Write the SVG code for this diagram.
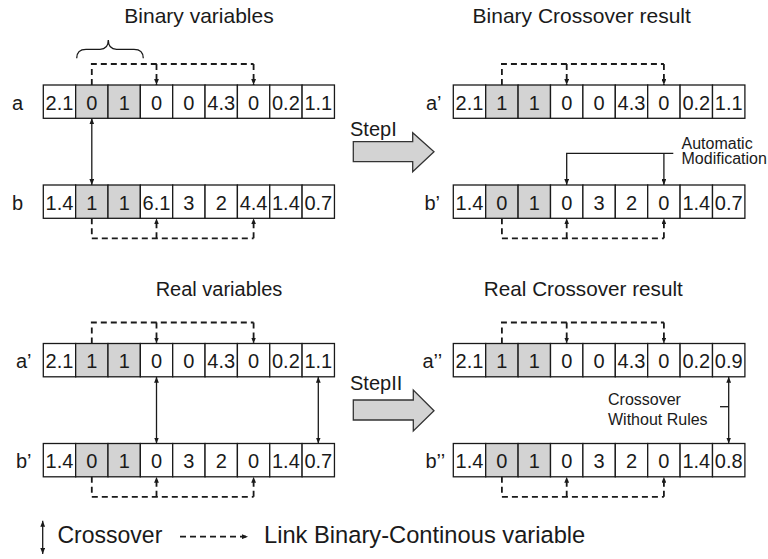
<svg xmlns="http://www.w3.org/2000/svg" width="768" height="559" viewBox="0 0 768 559">
<style>
text{font-family:"Liberation Sans",Arial,sans-serif;fill:#1a1a1a}
.c{fill:#fff;stroke:#1a1a1a;stroke-width:1.3}
.g{fill:#d3d3d3;stroke:#1a1a1a;stroke-width:1.3}
.v{font-size:20px;text-anchor:middle}
.lab{font-size:20px}
.ttl{font-size:21px;text-anchor:middle}
.ann{font-size:16px}
.leg{font-size:23px}
.sol{fill:none;stroke:#1a1a1a;stroke-width:1.3}
.dsh{fill:none;stroke:#1a1a1a;stroke-width:1.8;stroke-dasharray:6 4}
.big{fill:#d3d3d3;stroke:#333;stroke-width:1.3}
</style>
<defs>
<marker id="ah" viewBox="0 0 10 8" refX="10" refY="4" markerWidth="6" markerHeight="4.8" markerUnits="userSpaceOnUse" orient="auto-start-reverse">
<path d="M0,0 L10,4 L0,8 z" fill="#1a1a1a"/>
</marker>
</defs>

<!-- titles -->
<text class="ttl" x="199" y="23.3">Binary variables</text>
<text class="ttl" x="581.7" y="23.3">Binary Crossover result</text>
<text class="ttl" x="219" y="296" style="font-size:20px">Real variables</text>
<text class="ttl" x="583.3" y="296" style="font-size:20.7px">Real Crossover result</text>

<!-- brace -->
<path class="sol" d="M76.7,58.3 Q76.7,49.3 86,49.3 L100,49.3 Q108.3,49.3 108.3,40 Q108.3,49.3 116.6,49.3 L134,49.3 Q143.3,49.3 143.3,58.3"/>

<!-- Top-left a -->
<g id="tl-a">
<text class="lab" x="12" y="109.5">a</text>
<rect class="c" x="43.3" y="85" width="32.35" height="33.3"/>
<rect class="g" x="75.65" y="85" width="32.35" height="33.3"/>
<rect class="g" x="108" y="85" width="32.35" height="33.3"/>
<rect class="c" x="140.35" y="85" width="32.35" height="33.3"/>
<rect class="c" x="172.7" y="85" width="32.35" height="33.3"/>
<rect class="c" x="205.05" y="85" width="32.35" height="33.3"/>
<rect class="c" x="237.4" y="85" width="32.35" height="33.3"/>
<rect class="c" x="269.75" y="85" width="32.35" height="33.3"/>
<rect class="c" x="302.1" y="85" width="32.35" height="33.3"/>
<text class="v" x="59.5" y="109.5">2.1</text><text class="v" x="91.8" y="109.5">0</text><text class="v" x="124.2" y="109.5">1</text>
<text class="v" x="156.5" y="109.5">0</text><text class="v" x="188.9" y="109.5">0</text><text class="v" x="221.2" y="109.5">4.3</text>
<text class="v" x="253.6" y="109.5">0</text><text class="v" x="285.9" y="109.5">0.2</text><text class="v" x="318.3" y="109.5">1.1</text>
</g>

<!-- Top-left b -->
<g id="tl-b">
<text class="lab" x="12" y="209.5">b</text>
<rect class="c" x="43.3" y="185" width="32.35" height="33.3"/>
<rect class="g" x="75.65" y="185" width="32.35" height="33.3"/>
<rect class="g" x="108" y="185" width="32.35" height="33.3"/>
<rect class="c" x="140.35" y="185" width="32.35" height="33.3"/>
<rect class="c" x="172.7" y="185" width="32.35" height="33.3"/>
<rect class="c" x="205.05" y="185" width="32.35" height="33.3"/>
<rect class="c" x="237.4" y="185" width="32.35" height="33.3"/>
<rect class="c" x="269.75" y="185" width="32.35" height="33.3"/>
<rect class="c" x="302.1" y="185" width="32.35" height="33.3"/>
<text class="v" x="59.5" y="209.5">1.4</text><text class="v" x="91.8" y="209.5">1</text><text class="v" x="124.2" y="209.5">1</text>
<text class="v" x="156.5" y="209.5">6.1</text><text class="v" x="188.9" y="209.5">3</text><text class="v" x="221.2" y="209.5">2</text>
<text class="v" x="253.6" y="209.5">4.4</text><text class="v" x="285.9" y="209.5">1.4</text><text class="v" x="318.3" y="209.5">0.7</text>
</g>

<!-- Top-right a' -->
<g id="tr-a">
<text class="lab" x="426" y="109.5">a’</text>
<rect class="c" x="453.3" y="85" width="32.4" height="33.3"/>
<rect class="g" x="485.7" y="85" width="32.4" height="33.3"/>
<rect class="g" x="518.1" y="85" width="32.4" height="33.3"/>
<rect class="c" x="550.5" y="85" width="32.4" height="33.3"/>
<rect class="c" x="582.9" y="85" width="32.4" height="33.3"/>
<rect class="c" x="615.3" y="85" width="32.4" height="33.3"/>
<rect class="c" x="647.7" y="85" width="32.4" height="33.3"/>
<rect class="c" x="680.1" y="85" width="32.4" height="33.3"/>
<rect class="c" x="712.5" y="85" width="32.4" height="33.3"/>
<text class="v" x="469.5" y="109.5">2.1</text><text class="v" x="501.9" y="109.5">1</text><text class="v" x="534.3" y="109.5">1</text>
<text class="v" x="566.7" y="109.5">0</text><text class="v" x="599.1" y="109.5">0</text><text class="v" x="631.5" y="109.5">4.3</text>
<text class="v" x="663.9" y="109.5">0</text><text class="v" x="696.3" y="109.5">0.2</text><text class="v" x="728.7" y="109.5">1.1</text>
</g>

<!-- Top-right b' -->
<g id="tr-b">
<text class="lab" x="424.5" y="209.5">b’</text>
<rect class="c" x="453.3" y="185" width="32.4" height="33.3"/>
<rect class="g" x="485.7" y="185" width="32.4" height="33.3"/>
<rect class="g" x="518.1" y="185" width="32.4" height="33.3"/>
<rect class="c" x="550.5" y="185" width="32.4" height="33.3"/>
<rect class="c" x="582.9" y="185" width="32.4" height="33.3"/>
<rect class="c" x="615.3" y="185" width="32.4" height="33.3"/>
<rect class="c" x="647.7" y="185" width="32.4" height="33.3"/>
<rect class="c" x="680.1" y="185" width="32.4" height="33.3"/>
<rect class="c" x="712.5" y="185" width="32.4" height="33.3"/>
<text class="v" x="469.5" y="209.5">1.4</text><text class="v" x="501.9" y="209.5">0</text><text class="v" x="534.3" y="209.5">1</text>
<text class="v" x="566.7" y="209.5">0</text><text class="v" x="599.1" y="209.5">3</text><text class="v" x="631.5" y="209.5">2</text>
<text class="v" x="663.9" y="209.5">0</text><text class="v" x="696.3" y="209.5">1.4</text><text class="v" x="728.7" y="209.5">0.7</text>
</g>

<!-- Bottom-left a' -->
<g id="bl-a">
<text class="lab" x="16" y="368">a’</text>
<rect class="c" x="43.3" y="343.5" width="32.35" height="33.3"/>
<rect class="g" x="75.65" y="343.5" width="32.35" height="33.3"/>
<rect class="g" x="108" y="343.5" width="32.35" height="33.3"/>
<rect class="c" x="140.35" y="343.5" width="32.35" height="33.3"/>
<rect class="c" x="172.7" y="343.5" width="32.35" height="33.3"/>
<rect class="c" x="205.05" y="343.5" width="32.35" height="33.3"/>
<rect class="c" x="237.4" y="343.5" width="32.35" height="33.3"/>
<rect class="c" x="269.75" y="343.5" width="32.35" height="33.3"/>
<rect class="c" x="302.1" y="343.5" width="32.35" height="33.3"/>
<text class="v" x="59.5" y="368">2.1</text><text class="v" x="91.8" y="368">1</text><text class="v" x="124.2" y="368">1</text>
<text class="v" x="156.5" y="368">0</text><text class="v" x="188.9" y="368">0</text><text class="v" x="221.2" y="368">4.3</text>
<text class="v" x="253.6" y="368">0</text><text class="v" x="285.9" y="368">0.2</text><text class="v" x="318.3" y="368">1.1</text>
</g>

<!-- Bottom-left b' -->
<g id="bl-b">
<text class="lab" x="16" y="468">b’</text>
<rect class="c" x="43.3" y="443.5" width="32.35" height="33.3"/>
<rect class="g" x="75.65" y="443.5" width="32.35" height="33.3"/>
<rect class="g" x="108" y="443.5" width="32.35" height="33.3"/>
<rect class="c" x="140.35" y="443.5" width="32.35" height="33.3"/>
<rect class="c" x="172.7" y="443.5" width="32.35" height="33.3"/>
<rect class="c" x="205.05" y="443.5" width="32.35" height="33.3"/>
<rect class="c" x="237.4" y="443.5" width="32.35" height="33.3"/>
<rect class="c" x="269.75" y="443.5" width="32.35" height="33.3"/>
<rect class="c" x="302.1" y="443.5" width="32.35" height="33.3"/>
<text class="v" x="59.5" y="468">1.4</text><text class="v" x="91.8" y="468">0</text><text class="v" x="124.2" y="468">1</text>
<text class="v" x="156.5" y="468">0</text><text class="v" x="188.9" y="468">3</text><text class="v" x="221.2" y="468">2</text>
<text class="v" x="253.6" y="468">0</text><text class="v" x="285.9" y="468">1.4</text><text class="v" x="318.3" y="468">0.7</text>
</g>

<!-- Bottom-right a'' -->
<g id="br-a">
<text class="lab" x="422.5" y="368">a’’</text>
<rect class="c" x="453.3" y="343.5" width="32.4" height="33.3"/>
<rect class="g" x="485.7" y="343.5" width="32.4" height="33.3"/>
<rect class="g" x="518.1" y="343.5" width="32.4" height="33.3"/>
<rect class="c" x="550.5" y="343.5" width="32.4" height="33.3"/>
<rect class="c" x="582.9" y="343.5" width="32.4" height="33.3"/>
<rect class="c" x="615.3" y="343.5" width="32.4" height="33.3"/>
<rect class="c" x="647.7" y="343.5" width="32.4" height="33.3"/>
<rect class="c" x="680.1" y="343.5" width="32.4" height="33.3"/>
<rect class="c" x="712.5" y="343.5" width="32.4" height="33.3"/>
<text class="v" x="469.5" y="368">2.1</text><text class="v" x="501.9" y="368">1</text><text class="v" x="534.3" y="368">1</text>
<text class="v" x="566.7" y="368">0</text><text class="v" x="599.1" y="368">0</text><text class="v" x="631.5" y="368">4.3</text>
<text class="v" x="663.9" y="368">0</text><text class="v" x="696.3" y="368">0.2</text><text class="v" x="728.7" y="368">0.9</text>
</g>

<!-- Bottom-right b'' -->
<g id="br-b">
<text class="lab" x="425.5" y="468">b’’</text>
<rect class="c" x="453.3" y="443.5" width="32.4" height="33.3"/>
<rect class="g" x="485.7" y="443.5" width="32.4" height="33.3"/>
<rect class="g" x="518.1" y="443.5" width="32.4" height="33.3"/>
<rect class="c" x="550.5" y="443.5" width="32.4" height="33.3"/>
<rect class="c" x="582.9" y="443.5" width="32.4" height="33.3"/>
<rect class="c" x="615.3" y="443.5" width="32.4" height="33.3"/>
<rect class="c" x="647.7" y="443.5" width="32.4" height="33.3"/>
<rect class="c" x="680.1" y="443.5" width="32.4" height="33.3"/>
<rect class="c" x="712.5" y="443.5" width="32.4" height="33.3"/>
<text class="v" x="469.5" y="468">1.4</text><text class="v" x="501.9" y="468">0</text><text class="v" x="534.3" y="468">1</text>
<text class="v" x="566.7" y="468">0</text><text class="v" x="599.1" y="468">3</text><text class="v" x="631.5" y="468">2</text>
<text class="v" x="663.9" y="468">0</text><text class="v" x="696.3" y="468">1.4</text><text class="v" x="728.7" y="468">0.8</text>
</g>

<!-- step arrows -->
<g id="step1">
<text class="lab" x="350" y="136">StepI</text>
<polygon class="big" points="353.3,141.7 412.7,141.7 412.7,132.7 434,151.7 412.7,171.7 412.7,161.7 353.3,161.7"/>
</g>
<g id="step2">
<text class="lab" x="350" y="390">StepII</text>
<polygon class="big" points="353.3,400 413.3,400 413.3,390 434,410.7 413.3,431 413.3,420 353.3,420"/>
</g>

<!-- annotations -->
<text class="ann" x="681.5" y="148.5">Automatic</text>
<text class="ann" x="681.5" y="164">Modification</text>
<text class="ann" x="608" y="405">Crossover</text>
<text class="ann" x="608" y="424.5">Without Rules</text>

<!-- connectors -->
<g id="connectors">
<!-- TL -->
<path class="dsh" d="M91.8,85 V64 H253.6"/>
<path class="dsh" d="M156.5,64 V85" marker-end="url(#ah)"/>
<path class="dsh" d="M253.6,64 V85" marker-end="url(#ah)"/>
<path class="sol" d="M91.8,118.3 V185" marker-start="url(#ah)" marker-end="url(#ah)"/>
<path class="dsh" d="M91.8,218.3 V238.3 H253.6"/>
<path class="dsh" d="M156.5,238.3 V218.3" marker-end="url(#ah)"/>
<path class="dsh" d="M253.6,238.3 V218.3" marker-end="url(#ah)"/>
<!-- TR -->
<path class="dsh" d="M501.9,85 V64 H663.9"/>
<path class="dsh" d="M566.7,64 V85" marker-end="url(#ah)"/>
<path class="dsh" d="M663.9,64 V85" marker-end="url(#ah)"/>
<path class="sol" d="M673.3,153.3 H566.7 V185" marker-end="url(#ah)"/>
<path class="sol" d="M663.9,153.3 V185" marker-end="url(#ah)"/>
<path class="dsh" d="M501.9,218.3 V238.3 H663.9"/>
<path class="dsh" d="M566.7,238.3 V218.3" marker-end="url(#ah)"/>
<path class="dsh" d="M663.9,238.3 V218.3" marker-end="url(#ah)"/>
<!-- BL -->
<path class="dsh" d="M91.8,343.5 V322.5 H253.6"/>
<path class="dsh" d="M156.5,322.5 V343.5" marker-end="url(#ah)"/>
<path class="dsh" d="M253.6,322.5 V343.5" marker-end="url(#ah)"/>
<path class="sol" d="M156.5,376.8 V443.5" marker-start="url(#ah)" marker-end="url(#ah)"/>
<path class="sol" d="M318.3,376.8 V443.5" marker-start="url(#ah)" marker-end="url(#ah)"/>
<path class="dsh" d="M91.8,476.8 V496.8 H253.6"/>
<path class="dsh" d="M156.5,496.8 V476.8" marker-end="url(#ah)"/>
<path class="dsh" d="M253.6,496.8 V476.8" marker-end="url(#ah)"/>
<!-- BR -->
<path class="dsh" d="M501.9,343.5 V322.5 H663.9"/>
<path class="dsh" d="M566.7,322.5 V343.5" marker-end="url(#ah)"/>
<path class="dsh" d="M663.9,322.5 V343.5" marker-end="url(#ah)"/>
<path class="sol" d="M728.7,376.8 V443.5" marker-start="url(#ah)" marker-end="url(#ah)"/>
<path class="sol" d="M720,406.7 H728.7"/>
<path class="dsh" d="M501.9,476.8 V496.8 H663.9"/>
<path class="dsh" d="M566.7,496.8 V476.8" marker-end="url(#ah)"/>
<path class="dsh" d="M663.9,496.8 V476.8" marker-end="url(#ah)"/>
</g>

<!-- legend -->
<g id="legend">
<path class="sol" d="M42.7,520.7 V554" marker-start="url(#ah)" marker-end="url(#ah)"/>
<text class="leg" x="57.5" y="543.3">Crossover</text>
<path class="dsh" d="M180,536.7 H248" stroke-width="1.3" marker-end="url(#ah)"/>
<text class="leg" x="264" y="543.3" style="font-size:23.7px">Link Binary-Continous variable</text>
</g>
</svg>
